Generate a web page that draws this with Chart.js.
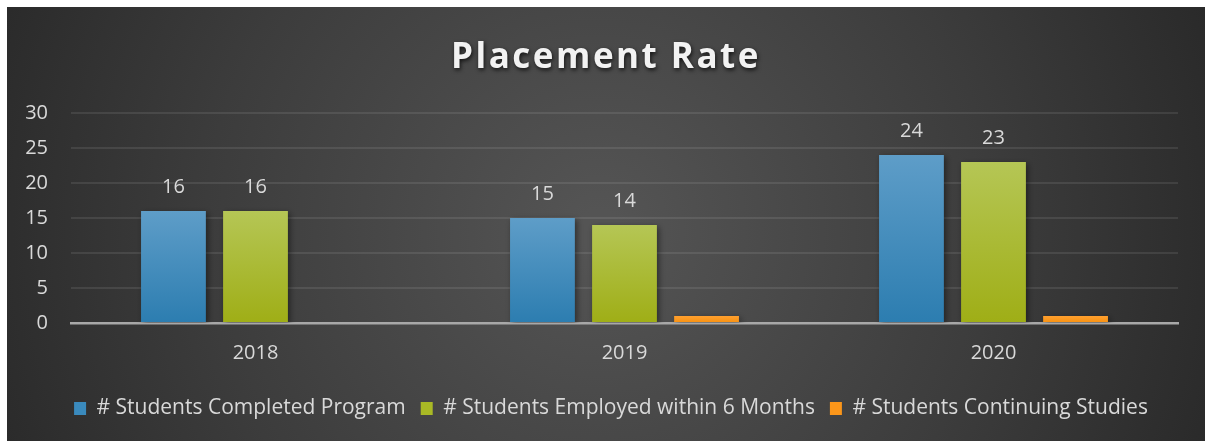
<!DOCTYPE html>
<html>
<head>
<meta charset="utf-8">
<script src="https://cdn.jsdelivr.net/npm/chart.js@4/dist/chart.umd.min.js"></script>
<style>
  html, body { margin: 0; padding: 0; background: #fff; }
  #wrap { width: 1205px; height: 441px; }
</style>
</head>
<body>
<div id="wrap"><canvas id="placementChart" width="1205" height="441"></canvas></div>
<script>
// 차트 데이터
var years = ['2018', '2019', '2020'];
var completed = [16, 15, 24];
var employed = [16, 14, 23];
var continuing = [0, 1, 1];
var seriesNames = ['# Students Completed Program', '# Students Employed within 6 Months', '# Students Continuing Studies'];
var yTicks = [0, 5, 10, 15, 20, 25, 30];

var titleText = 'Placement Rate';
var textColor = '#d9d9d9';
var fontName = '"Open Sans", Lato, sans-serif';

// 막대마다 위->아래 그라데이션을 만드는 함수
function barGradient(top, bottom) {
  return function (context) {
    var chart = context.chart;
    var y = chart.scales.y;
    if (!y || context.raw === undefined) {
      return bottom;
    }
    var y0 = y.getPixelForValue(0);
    var y1 = y.getPixelForValue(context.raw);
    if (y0 - y1 < 1) {
      return bottom;
    }
    var g = chart.ctx.createLinearGradient(0, y1, 0, y0);
    g.addColorStop(0, top);
    g.addColorStop(1, bottom);
    return g;
  };
}

// 배경 (바깥 흰 테두리 + 어두운 방사형 그라데이션)
var backgroundPlugin = {
  id: 'darkBackground',
  beforeDraw: function (chart) {
    var ctx = chart.ctx;
    ctx.save();
    ctx.fillStyle = '#ffffff';
    ctx.fillRect(0, 0, chart.width, chart.height);
    var g = ctx.createRadialGradient(600, 230, 20, 600, 230, 700);
    g.addColorStop(0, '#545454');
    g.addColorStop(0.55, '#3c3c3c');
    g.addColorStop(1, '#262626');
    ctx.fillStyle = g;
    ctx.fillRect(7, 7, chart.width - 7, chart.height - 7);
    ctx.restore();
  }
};

// 범례를 캔버스 가운데 쪽으로 약간 이동
var legendShiftPlugin = {
  id: 'legendShift',
  afterLayout: function (chart) {
    if (chart.legend) {
      chart.legend.left += 22;
      chart.legend.right += 22;
    }
  }
};

// 제목 (그림자 + 자간)
var titlePlugin = {
  id: 'shadowTitle',
  afterDraw: function (chart) {
    var ctx = chart.ctx;
    ctx.save();
    ctx.font = 'bold 35px ' + fontName;
    ctx.letterSpacing = '2.5px';
    ctx.textAlign = 'center';
    ctx.textBaseline = 'alphabetic';
    ctx.shadowColor = 'rgba(0,0,0,0.75)';
    ctx.shadowBlur = 4;
    ctx.shadowOffsetX = 1;
    ctx.shadowOffsetY = 2;
    ctx.fillStyle = '#f2f2f2';
    ctx.fillText(titleText, 606, 68);
    ctx.restore();
  }
};

// 막대 그림자
var barShadowPlugin = {
  id: 'barShadow',
  beforeDatasetsDraw: function (chart) {
    var ctx = chart.ctx;
    ctx.save();
    ctx.shadowColor = 'rgba(0,0,0,0.45)';
    ctx.shadowBlur = 6;
    ctx.shadowOffsetX = 2;
    ctx.shadowOffsetY = 2;
  },
  afterDatasetsDraw: function (chart) {
    chart.ctx.restore();
  }
};

// 값 라벨 (처음 두 시리즈만)
var valueLabelPlugin = {
  id: 'valueLabels',
  afterDatasetsDraw: function (chart) {
    var ctx = chart.ctx;
    ctx.save();
    ctx.font = '20px ' + fontName;
    ctx.fillStyle = textColor;
    ctx.textAlign = 'center';
    ctx.textBaseline = 'alphabetic';
    [0, 1].forEach(function (di) {
      var meta = chart.getDatasetMeta(di);
      meta.data.forEach(function (bar, i) {
        ctx.fillText(String(chart.data.datasets[di].data[i]), bar.x, bar.y - 18);
      });
    });
    ctx.restore();
  }
};

var ctx = document.getElementById('placementChart').getContext('2d');

new Chart(ctx, {
  type: 'bar',
  data: {
    labels: years,
    datasets: [
      {
        label: seriesNames[0],
        data: completed,
        backgroundColor: barGradient('#5e9dc8', '#2c7db0')
      },
      {
        label: seriesNames[1],
        data: employed,
        backgroundColor: barGradient('#b5c655', '#9fae16')
      },
      {
        label: seriesNames[2],
        data: continuing,
        backgroundColor: barGradient('#ffa030', '#f7900e')
      }
    ]
  },
  options: {
    responsive: false,
    animation: false,
    categoryPercentage: 0.667,
    barPercentage: 0.79,
    layout: {
      padding: { left: 0, right: 27, top: 113, bottom: 12 }
    },
    plugins: {
      title: { display: false },
      tooltip: { enabled: false },
      legend: {
        display: true,
        position: 'bottom',
        labels: {
          color: textColor,
          font: { family: fontName, size: 21 },
          boxWidth: 12,
          boxHeight: 13,
          padding: 15,
          generateLabels: function (chart) {
            var solid = ['#3a8abd', '#a9b925', '#fb961a'];
            return chart.data.datasets.map(function (ds, i) {
              return {
                text: ds.label,
                fillStyle: solid[i],
                strokeStyle: solid[i],
                lineWidth: 0,
                fontColor: textColor,
                datasetIndex: i
              };
            });
          }
        }
      }
    },
    scales: {
      x: {
        z: 1,
        grid: { display: false, drawTicks: false },
        border: { display: true, color: '#a8a8a8', width: 2.5 },
        ticks: {
          color: textColor,
          font: { family: fontName, size: 20 },
          padding: 18
        }
      },
      y: {
        min: yTicks[0],
        max: yTicks[yTicks.length - 1],
        afterFit: function (scale) {
          scale.width = 71;
        },
        afterBuildTicks: function (scale) {
          scale.ticks = yTicks.map(function (v) { return { value: v }; });
        },
        grid: { color: 'rgba(255,255,255,0.09)', lineWidth: 2, drawTicks: false },
        border: { display: false },
        ticks: {
          color: textColor,
          font: { family: fontName, size: 20 },
          padding: 23
        }
      }
    }
  },
  plugins: [backgroundPlugin, legendShiftPlugin, barShadowPlugin, valueLabelPlugin, titlePlugin]
});
</script>
</body>
</html>
